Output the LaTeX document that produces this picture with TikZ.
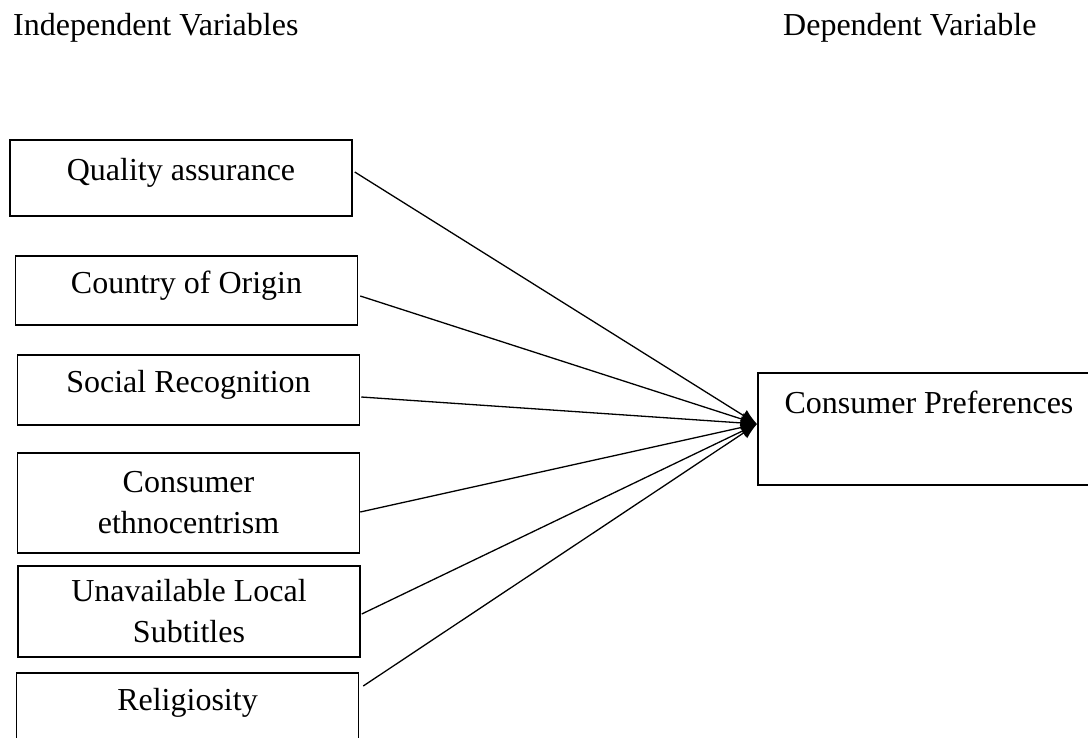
\documentclass[tikz,border=0pt]{standalone}
\usepackage{fontspec}
\setmainfont{Liberation Serif}
\usetikzlibrary{arrows.meta}

\begin{document}
\begin{tikzpicture}[x=1pt, y=-1pt,
	font=\fontsize{32}{41}\selectfont,
	varbox/.style={draw, line width=1.5pt, inner sep=0pt, minimum width=342pt, align=center},
	link/.style={line width=1.3pt, -{Latex[length=16pt,width=13pt]}}]
\useasboundingbox (0,0) rectangle (1088,737);

\node[anchor=base west, inner sep=0pt] (indep) at (13,35) {Independent Variables};
\node[anchor=base west, inner sep=0pt] (dep) at (783,35) {Dependent Variable};

% independent variables
\node[varbox, text height=40pt, text depth=36pt] (qa) at (181,178) {Quality assurance};
\node[varbox, text height=37pt, text depth=32pt] (coo) at (186.5,290.5) {Country of Origin};
\node[varbox, text height=37pt, text depth=33pt] (sr) at (188.5,390) {Social Recognition};
\node[varbox, minimum height=100pt] (ce) at (188.5,503) {Consumer\\ethnocentrism};
\node[varbox, minimum height=91pt] (uls) at (189,611.5) {Unavailable Local\\Subtitles};
\node[varbox, text height=37pt, text depth=43pt] (rel) at (187.5,713) {Religiosity};

% dependent variable
\node[varbox, text height=40pt, text depth=72pt] (cp) at (929,429) {Consumer Preferences};
\coordinate (hub) at (757,424);

\foreach \src/\dx/\dy in {qa/2/-6, coo/2/5.5, sr/1/7, ce/0/9, uls/1/2.5, rel/4/-27}
\draw[link] ([shift={(\dx,\dy)}]\src.east) -- (hub);
\end{tikzpicture}
\end{document}
